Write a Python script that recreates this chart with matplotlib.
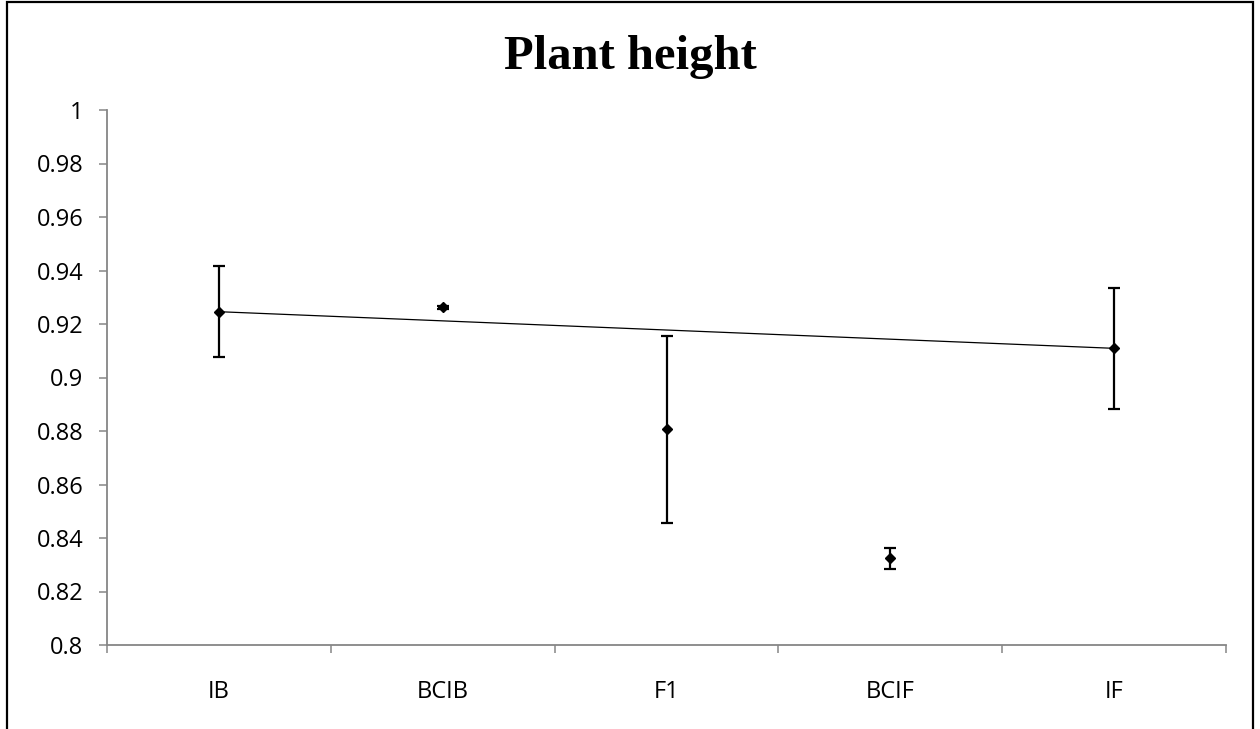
import matplotlib.pyplot as plt
import numpy as np
from matplotlib.patches import Rectangle

# Data
categories = ['IB', 'BCIB', 'F1', 'BCIF', 'IF']
means = [0.9246, 0.9262, 0.8806, 0.8324, 0.9109]
errors = [0.0170, 0.0007, 0.0349, 0.0039, 0.0226]
yticks = [0.8, 0.82, 0.84, 0.86, 0.88, 0.9, 0.92, 0.94, 0.96, 0.98, 1]
ytick_labels = ['0.8', '0.82', '0.84', '0.86', '0.88', '0.9', '0.92', '0.94', '0.96', '0.98', '1']

axis_grey = '#868686'
label_font = ['Open Sans', 'DejaVu Sans']

fig = plt.figure(figsize=(12.6, 7.29), dpi=100)
ax = fig.add_axes([107 / 1260, 1 - 645 / 729, (1226 - 107) / 1260, (645 - 110) / 729])

x = np.arange(len(categories))

# line joining the two parents
ax.plot([x[0], x[-1]], [means[0], means[-1]], color='black', lw=0.9, zorder=2)

ax.errorbar(x, means, yerr=errors, fmt='D', color='black', markersize=5,
            ecolor='black', elinewidth=1.6, capsize=4.5, capthick=1.6, zorder=3)

ax.set_xlim(-0.5, len(categories) - 0.5)
ax.set_ylim(0.8, 1.0)

# y axis
ax.set_yticks(yticks)
ax.set_yticklabels(ytick_labels, fontsize=17, family=label_font)
ax.tick_params(axis='y', direction='out', length=6, width=1.1, color=axis_grey, pad=11)

# x axis: ticks on the band edges, labels in the middle
ax.set_xticks(np.arange(len(categories) + 1) - 0.5)
ax.set_xticklabels([])
ax.set_xticks(x, minor=True)
ax.set_xticklabels(categories, minor=True, fontsize=17, family=label_font)
ax.tick_params(axis='x', which='major', direction='out', length=6, width=1.1, color=axis_grey)
ax.tick_params(axis='x', which='minor', length=0, pad=25)

for side in ['top', 'right']:
    ax.spines[side].set_visible(False)
for side in ['left', 'bottom']:
    ax.spines[side].set_color(axis_grey)
    ax.spines[side].set_linewidth(1.3)

fig.text(0.5, 1 - 57 / 729, 'Plant height', ha='center', va='center',
         fontsize=35, fontweight='bold', family=['Liberation Serif', 'DejaVu Serif'])

# outer chart border (bottom edge is cut off in the original)
fig.patches.append(Rectangle((7 / 1260, -0.1), (1253 - 7) / 1260, 1.1 - 2.5 / 729,
                             transform=fig.transFigure, fill=False,
                             edgecolor='black', lw=1.6))

fig.savefig('out.png', dpi=100)
